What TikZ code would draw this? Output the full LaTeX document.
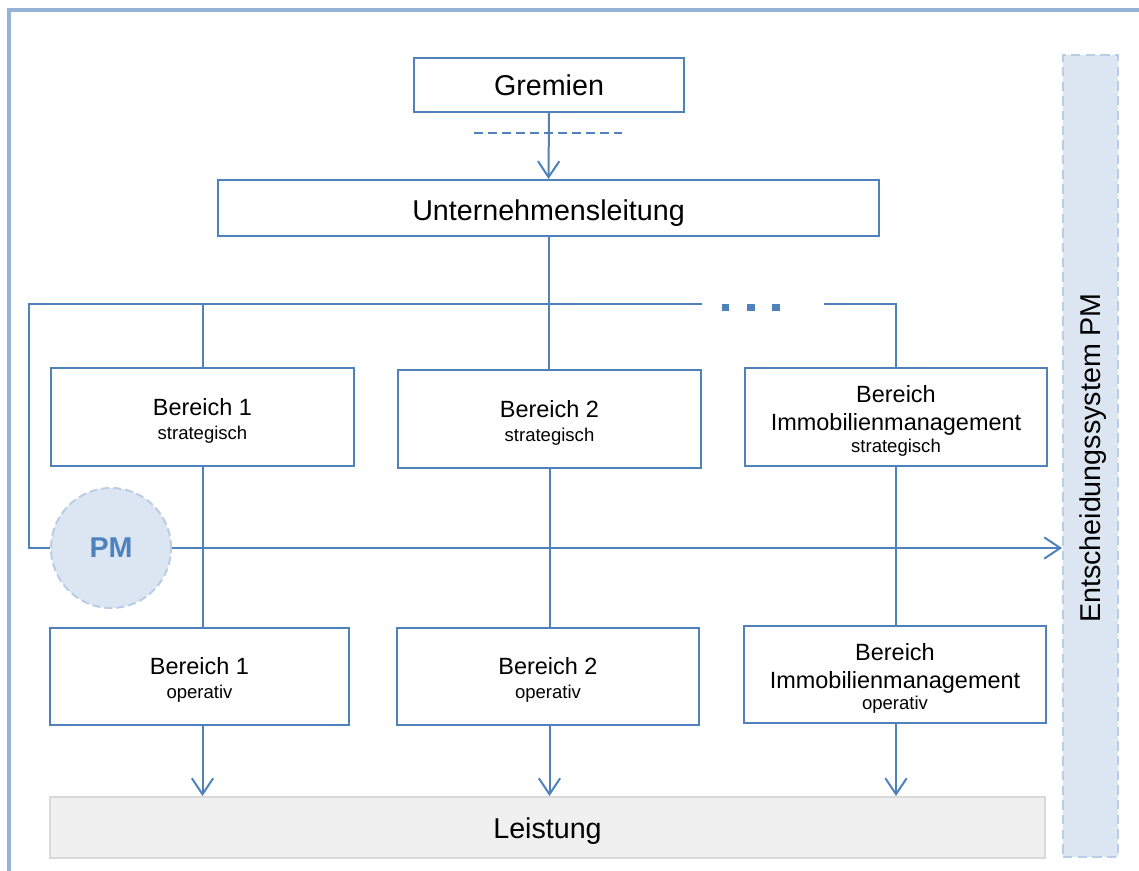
\documentclass[tikz,border=0pt]{standalone}
\usepackage{fontspec}
\setmainfont{Liberation Sans}
\usetikzlibrary{arrows.meta}
\definecolor{lineblue}{HTML}{4F81BD}
\definecolor{frameblue}{HTML}{95B3D7}
\definecolor{pmfill}{HTML}{DCE6F2}
\definecolor{pmline}{HTML}{B9CDE5}
\definecolor{outfill}{HTML}{F0F0F0}
\definecolor{outline}{HTML}{D9D9D9}
\newcommand{\bigtxt}{\fontsize{21.5}{25}\selectfont}
\newcommand{\midtxt}{\fontsize{17.6}{21}\selectfont}
\newcommand{\subtxt}{\fontsize{13.9}{18}\selectfont}
% extra room above the first line to set the text block slightly lower
\newcommand{\topgap}{\rule{0pt}{18.5pt}}
\tikzset{
  orgbox/.style={draw=lineblue, line width=1.5pt, fill=white, rectangle,
    inner sep=0pt, align=center, text=black},
  unitbox/.style={orgbox, font=\midtxt},
  conn/.style={draw=lineblue, line width=1.5pt},
  arr/.style={conn, -{Straight Barb[length=12pt,width=16pt,line width=1.5pt]}},
}
\begin{document}
\begin{tikzpicture}[x=0.75pt, y=-0.75pt]
  \useasboundingbox (0,0) rectangle (1139,871);

  % outer frame
  \draw[frameblue, line width=2.3pt] (9,871) -- (9,10) -- (1139,10);

  % side panel
  \node[draw=pmline, fill=pmfill, line width=1.5pt, dash pattern=on 7pt off 4pt,
        minimum width=41.25pt, minimum height=601.5pt, inner sep=0pt]
        (ent) at (1090.5,456) {};
  \node[rotate=90, text=black, text depth=0pt, inner sep=0pt, xshift=-1.5pt]
        (entlabel) at (ent.center) {\bigtxt Entscheidungssystem PM};

  % output bar
  \node[draw=outline, fill=outfill, line width=1.5pt, minimum width=746.25pt,
        minimum height=45.75pt, inner sep=0pt, text depth=0pt] (lei) at (547.5,827.5)
        {\bigtxt\rule{0pt}{17pt}Leistung};

  % top levels
  \node[orgbox, minimum width=202.5pt, minimum height=40.5pt, text depth=0pt] (grem) at (549,85)
        {\bigtxt Gremien};
  \node[orgbox, minimum width=495.75pt, minimum height=42pt, text depth=0pt] (ul) at (548.5,208)
        {\bigtxt\rule{0pt}{18pt}Unternehmensleitung};
  \draw[lineblue, line width=1.5pt, dash pattern=on 7pt off 3.5pt] (474,133) -- (622,133);

  % strategic units
  \node[unitbox, minimum width=227.25pt, minimum height=73.5pt] (b1s) at (202.5,417)
        {\topgap Bereich 1\\[-3pt]\subtxt strategisch};
  \node[unitbox, minimum width=227.25pt, minimum height=73.5pt] (b2s) at (549.5,419)
        {\topgap Bereich 2\\[-3pt]\subtxt strategisch};
  \node[unitbox, minimum width=226.5pt, minimum height=73.5pt] (bis) at (896,417)
        {\topgap Bereich\\Immobilienmanagement\\[-5pt]\subtxt strategisch};

  % operative units
  \node[unitbox, minimum width=224.25pt, minimum height=72.75pt] (b1o) at (199.5,676.5)
        {\topgap Bereich 1\\[-3pt]\subtxt operativ};
  \node[unitbox, minimum width=226.5pt, minimum height=72.75pt] (b2o) at (548,676.5)
        {\topgap Bereich 2\\[-3pt]\subtxt operativ};
  \node[unitbox, minimum width=226.5pt, minimum height=72.75pt] (bio) at (895,674.5)
        {\topgap Bereich\\Immobilienmanagement\\[-5pt]\subtxt operativ};

  % project management circle
  \node[circle, draw=pmline, fill=pmfill, line width=1.5pt, dash pattern=on 6pt off 3pt,
        minimum size=90pt, inner sep=0pt, text=lineblue, font=\bfseries\bigtxt]
        (pm) at (111,548) {PM};

  % bus coordinates
  \coordinate (busL) at (29,304);
  \coordinate (busM) at (702,304);
  \coordinate (busR) at (824,304);

  % connectors
  \draw[arr] (grem.south) -- (ul.north);
  \draw[conn] (ul.south) -- (ul.south |- b2s.north);
  \draw[conn] (pm.west) -| (busL) -- (busM);
  \draw[conn] (busR) -| (bis.north);
  \draw[conn] (b1s.north |- busL) -- (b1s.north);
  \draw[lineblue, line width=5.5pt, dash pattern=on 5.6pt off 13.2pt]
        (722,307.5) -- (781,307.5);

  \draw[conn] (b1s.south) -- (b1s.south |- b1o.north);
  \draw[conn] (b2s.south) -- (b2s.south |- b2o.north);
  \draw[conn] (bis.south) -- (bis.south |- bio.north);

  \draw[arr] (pm.east) -- (ent.west |- pm.east);

  \draw[arr] (b1s.south |- b1o.south) -- (b1s.south |- lei.north);
  \draw[arr] (b2s.south |- b2o.south) -- (b2s.south |- lei.north);
  \draw[arr] (bis.south |- bio.south) -- (bis.south |- lei.north);
\end{tikzpicture}
\end{document}
